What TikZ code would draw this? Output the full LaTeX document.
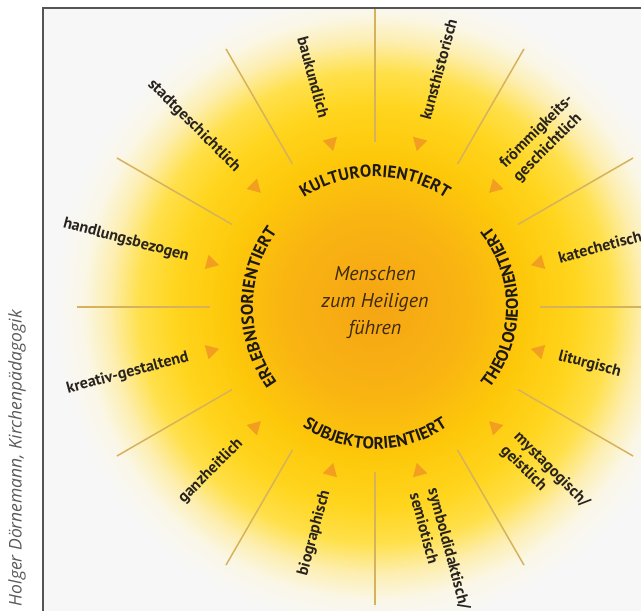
\documentclass[tikz,border=0pt]{standalone}
\usepackage{fontspec}
\setmainfont{PT Sans}
\newfontfamily\creditfont{Open Sans}
\usetikzlibrary{shapes.geometric,decorations.text}

\definecolor{sun0}{RGB}{245,165,20}
\definecolor{sun1}{RGB}{249,180,18}
\definecolor{sun2}{RGB}{253,200,10}
\definecolor{sun3}{RGB}{255,213,30}
\definecolor{sun4}{RGB}{255,224,75}
\definecolor{sun5}{RGB}{253,238,175}
\definecolor{sun6}{RGB}{250,247,232}
\definecolor{paper}{RGB}{247,247,247}
\definecolor{raycol}{RGB}{214,178,92}
\definecolor{pointercol}{RGB}{240,150,35}
\definecolor{labelink}{RGB}{40,35,30}
\definecolor{ringink}{RGB}{30,25,15}
\definecolor{coreink}{RGB}{62,42,14}
\definecolor{creditink}{RGB}{90,90,90}
\definecolor{framecol}{RGB}{85,85,85}

\pgfdeclareradialshading{sunglow}{\pgfpoint{0bp}{0bp}}{color(0bp)=(sun0); color(90bp)=(sun1); color(150bp)=(sun2); color(200bp)=(sun3); color(235bp)=(sun4); color(265bp)=(sun5); color(292bp)=(sun6); color(320bp)=(paper); color(330bp)=(paper)}

\newcommand{\ringfont}{\fontsize{17}{20}\selectfont\bfseries\color{ringink}}

\tikzstyle{ray}     = [draw=raycol, line width=1.5pt]
\tikzstyle{pointer} = [regular polygon, regular polygon sides=3, fill=pointercol, fill opacity=0.85, inner sep=0pt, minimum size=17pt]
\tikzstyle{method}  = [text=labelink, font=\fontsize{16}{19}\selectfont\bfseries, inner sep=0pt, align=left]
\tikzstyle{core}    = [text=coreink, font=\fontsize{20}{27}\selectfont\itshape, align=center]
\tikzstyle{credit}  = [text=creditink, font=\creditfont\itshape\fontsize{17.5}{20}\selectfont, inner sep=0pt]
\tikzstyle{ring}    = [decorate, decoration={text along path, text align=center}]

\begin{document}
\begin{tikzpicture}

	\useasboundingbox (-375pt,-304pt) rectangle (266pt,307pt);

	% Background %

	\fill[paper] (-332pt,-304pt) rectangle (266pt,299pt);
	\begin{scope}
		\clip (-332pt,-304pt) rectangle (266pt,299pt);
		\node[inner sep=0pt] (sun) at (0pt,0pt) {\pgfuseshading{sunglow}};
	\end{scope}
	\draw[framecol, line width=1.5pt] (-332pt,-304pt) -- (-332pt,299pt) -- (266pt,299pt);

	% Rays %

	\coordinate (in0)  at (0:165pt);   \coordinate (out0)  at (0:298pt);
	\coordinate (in1)  at (30:165pt);  \coordinate (out1)  at (30:298pt);
	\coordinate (in2)  at (60:165pt);  \coordinate (out2)  at (60:298pt);
	\coordinate (in3)  at (90:165pt);  \coordinate (out3)  at (90:298pt);
	\coordinate (in4)  at (120:165pt); \coordinate (out4)  at (120:298pt);
	\coordinate (in5)  at (150:165pt); \coordinate (out5)  at (150:298pt);
	\coordinate (in6)  at (180:165pt); \coordinate (out6)  at (180:298pt);
	\coordinate (in7)  at (210:165pt); \coordinate (out7)  at (210:298pt);
	\coordinate (in8)  at (240:165pt); \coordinate (out8)  at (240:298pt);
	\coordinate (in9)  at (270:165pt); \coordinate (out9)  at (270:298pt);
	\coordinate (in10) at (300:165pt); \coordinate (out10) at (300:298pt);
	\coordinate (in11) at (330:165pt); \coordinate (out11) at (330:298pt);

	\path [ray] (in0)  -- (out0);
	\path [ray] (in1)  -- (out1);
	\path [ray] (in2)  -- (out2);
	\path [ray] (in3)  -- (out3);
	\path [ray] (in4)  -- (out4);
	\path [ray] (in5)  -- (out5);
	\path [ray] (in6)  -- (out6);
	\path [ray] (in7)  -- (out7);
	\path [ray] (in8)  -- (out8);
	\path [ray] (in9)  -- (out9);
	\path [ray] (in10) -- (out10);
	\path [ray] (in11) -- (out11);

	% Pointers %

	\node [pointer, rotate=105] (tri0)  at (15:170pt)  {};
	\node [pointer, rotate=135] (tri1)  at (45:170pt)  {};
	\node [pointer, rotate=165] (tri2)  at (75:170pt)  {};
	\node [pointer, rotate=195] (tri3)  at (105:170pt) {};
	\node [pointer, rotate=225] (tri4)  at (135:170pt) {};
	\node [pointer, rotate=255] (tri5)  at (165:170pt) {};
	\node [pointer, rotate=285] (tri6)  at (195:170pt) {};
	\node [pointer, rotate=315] (tri7)  at (225:170pt) {};
	\node [pointer, rotate=345] (tri8)  at (255:170pt) {};
	\node [pointer, rotate=15]  (tri9)  at (285:170pt) {};
	\node [pointer, rotate=45]  (tri10) at (315:170pt) {};
	\node [pointer, rotate=75]  (tri11) at (345:170pt) {};

	% Methods, right half =====================%
	\node [method, rotate=15,  anchor=west] (kat) at (15:190pt)  {katechetisch};
	\node [method, rotate=45,  anchor=west] (fro) at (45:190pt)  {frömmigkeits-\\geschichtlich};
	\node [method, rotate=75,  anchor=west] (kun) at (75:194pt)  {kunsthistorisch};
	\node [method, rotate=-15, anchor=west] (lit) at (-15:190pt) {liturgisch};
	\node [method, rotate=-45, anchor=west] (mys) at (-45:190pt) {mystagogisch/\\geistlich};
	\node [method, rotate=-75, anchor=west] (sym) at (-75:190pt) {symboldidaktisch/\\semiotisch};
	% Methods, left half ======================%
	\node [method, rotate=-75, anchor=east] (bau) at (105:196pt) {baukundlich};
	\node [method, rotate=-45, anchor=east] (sta) at (135:194pt) {stadtgeschichtlich};
	\node [method, rotate=-15, anchor=east] (han) at (165:193pt) {handlungsbezogen};
	\node [method, rotate=15,  anchor=east] (kre) at (195:193pt) {kreativ-gestaltend};
	\node [method, rotate=45,  anchor=east] (gan) at (225:190pt) {ganzheitlich};
	\node [method, rotate=75,  anchor=east] (bio) at (255:190pt) {biographisch};

	% Ring %

	\path [ring, decoration={text={|\ringfont|KULTURORIENTIERT}}]
		(150:130pt) arc [start angle=150, end angle=30, radius=130pt];
	\path [ring, decoration={text={|\ringfont|ERLEBNISORIENTIERT}}, shift={(8pt,0pt)}]
		(230:130pt) arc [start angle=230, end angle=130, radius=130pt];
	\path [ring, decoration={text={|\ringfont|THEOLOGIEORIENTIERT}}, shift={(13pt,0pt)}]
		(-50:130pt) arc [start angle=-50, end angle=50, radius=130pt];
	\path [ring, decoration={text={|\ringfont|SUBJEKTORIENTIERT}}, shift={(0pt,-12pt)}]
		(210:130pt) arc [start angle=210, end angle=330, radius=130pt];

	% Centre %

	\node [core] (heart) at (0pt,4pt) {Menschen\\zum Heiligen\\führen};

	% Credit %

	\node [credit, rotate=90, anchor=east] (credit) at (-358pt,-3pt) {Holger Dörnemann, Kirchenpädagogik};

\end{tikzpicture}
\end{document}
